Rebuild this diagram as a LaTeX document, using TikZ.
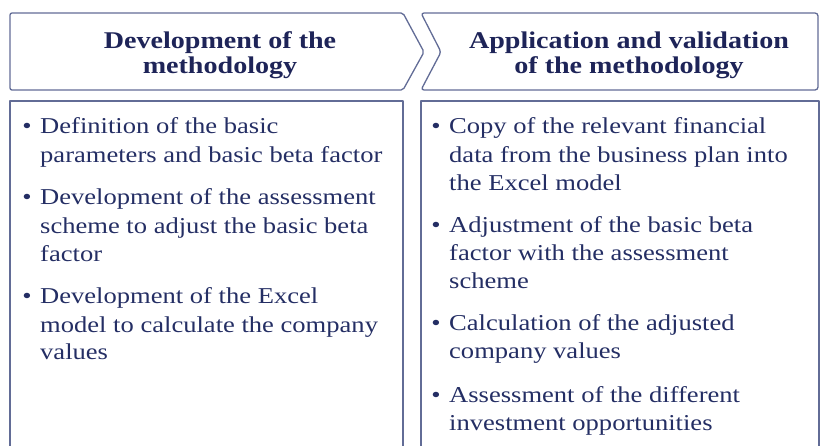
\documentclass[tikz,border=0pt]{standalone}
\usepackage{fontspec}
\setmainfont{Liberation Serif}
\definecolor{framec}{RGB}{98,108,150}
\definecolor{hdrc}{RGB}{30,36,88}
\definecolor{bodyc}{RGB}{36,46,100}
\newcommand\wx[1]{\scalebox{1.17}[1]{#1}}
\tikzset{
  frame/.style={draw=framec, line width=1.3pt, line join=round},
  hdr/.style={font=\bfseries\fontsize{24pt}{26pt}\selectfont, text=hdrc, inner sep=0pt, anchor=base},
  itm/.style={font=\fontsize{22.7pt}{28pt}\selectfont, text=bodyc, inner sep=0pt, anchor=base west},
  bul/.style={font=\fontsize{22.7pt}{28pt}\selectfont, text=bodyc, inner sep=0pt, anchor=base},
}
\begin{document}
\begin{tikzpicture}[x=1pt,y=-1pt]
\useasboundingbox (0,0) rectangle (821,445);
\begin{scope}
\clip (0,0) rectangle (821,445);
% header shapes
\draw[frame, rounded corners=2pt] (10,13) -- (403,13) -- (424,52) -- (403,90) -- (10,90) -- cycle;
\draw[frame, rounded corners=3pt] (421,13) -- (818,13) -- (818,90) -- (421,90) -- (441,52) -- cycle;
% content boxes
\draw[frame] (10,470) -- (10,101) -- (403,101) -- (403,470);
\draw[frame] (421,470) -- (421,101) -- (819,101) -- (819,470);
\end{scope}
% header texts
\node[hdr] (h1a) at (220,48) {\wx{Development of the}};
\node[hdr] (h1b) at (220,73) {\wx{methodology}};
\node[hdr] (h2a) at (629,48) {\wx{Application and validation}};
\node[hdr] (h2b) at (629,73) {\wx{of the methodology}};
% left items
\node[bul] (lb1) at (27,133) {\wx{•}};
\node[itm] (l1a) at (40,133) {\wx{Definition of the basic}};
\node[itm] (l1b) at (40,162) {\wx{parameters and basic beta factor}};
\node[bul] (lb2) at (27,204) {\wx{•}};
\node[itm] (l2a) at (40,204) {\wx{Development of the assessment}};
\node[itm] (l2b) at (40,233) {\wx{scheme to adjust the basic beta}};
\node[itm] (l2c) at (40,261) {\wx{factor}};
\node[bul] (lb3) at (27,303) {\wx{•}};
\node[itm] (l3a) at (40,303) {\wx{Development of the Excel}};
\node[itm] (l3b) at (40,332) {\wx{model to calculate the company}};
\node[itm] (l3c) at (40,359) {\wx{values}};
% right items
\node[bul] (rb1) at (436,133) {\wx{•}};
\node[itm] (r1a) at (449,133) {\wx{Copy of the relevant financial}};
\node[itm] (r1b) at (449,162) {\wx{data from the business plan into}};
\node[itm] (r1c) at (449,190) {\wx{the Excel model}};
\node[bul] (rb2) at (436,232) {\wx{•}};
\node[itm] (r2a) at (449,232) {\wx{Adjustment of the basic beta}};
\node[itm] (r2b) at (449,260) {\wx{factor with the assessment}};
\node[itm] (r2c) at (449,288) {\wx{scheme}};
\node[bul] (rb3) at (436,330) {\wx{•}};
\node[itm] (r3a) at (449,330) {\wx{Calculation of the adjusted}};
\node[itm] (r3b) at (449,358) {\wx{company values}};
\node[bul] (rb4) at (436,402) {\wx{•}};
\node[itm] (r4a) at (449,402) {\wx{Assessment of the different}};
\node[itm] (r4b) at (449,430) {\wx{investment opportunities}};
\end{tikzpicture}
\end{document}
